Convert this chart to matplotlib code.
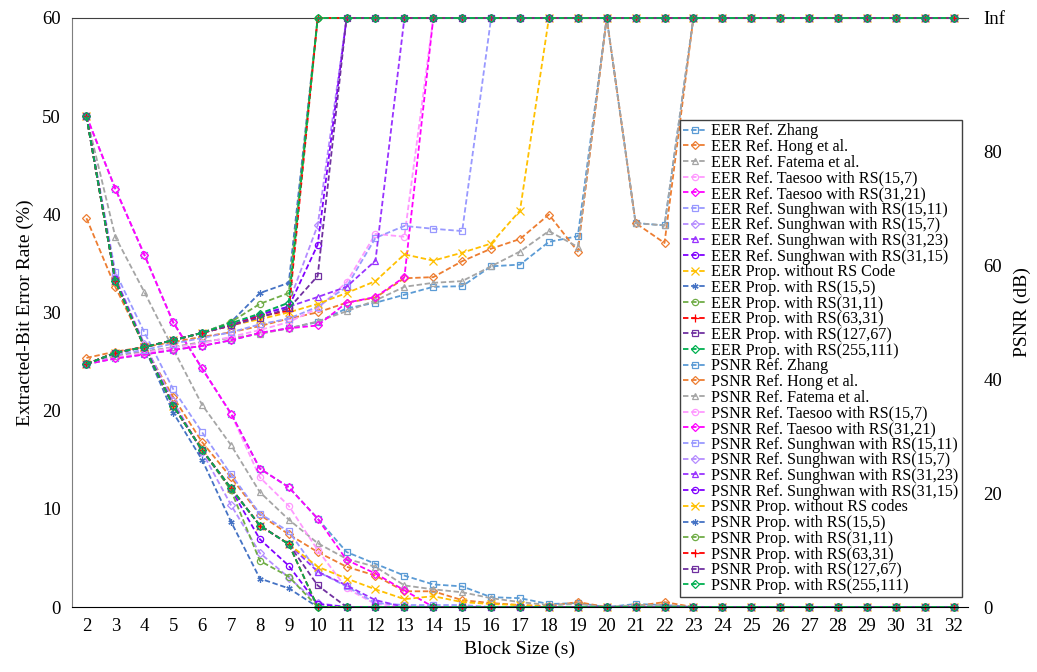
import numpy as np
import matplotlib
matplotlib.use('Agg')
import matplotlib.pyplot as plt

INF = float('inf')
N = 31
block_sizes = list(range(2, 33))
x_tick_labels = [str(v) for v in block_sizes]
eer_ticks = [0, 10, 20, 30, 40, 50, 60]
psnr_tick_labels = ['0', '20', '40', '60', '80', 'Inf']
PSNR_TOP = 103.56


def ext(vals, fill):
    return vals + [fill] * (N - len(vals))


# ---- Extracted-bit error rate (%) ----
eer_zhang = ext([50.0, 42.6, 35.9, 29.0, 24.3, 19.7, 14.1, 12.2, 9.0, 5.6, 4.4, 3.2, 2.3, 2.1, 1.0, 0.9, 0.3, 0.4, 0.0, 0.3, 0.2], 0.0)
eer_hong = ext([39.6, 32.6, 26.6, 21.4, 16.8, 13.2, 9.4, 7.4, 5.6, 4.1, 3.2, 1.6, 1.6, 0.7, 0.4, 0.2, 0.1, 0.5, 0.0, 0.1, 0.5], 0.0)
eer_fatema = ext([50.0, 37.7, 32.1, 26.3, 20.6, 16.5, 11.7, 8.9, 6.5, 4.9, 4.1, 2.2, 1.8, 1.5, 0.9, 0.5, 0.2, 0.3, 0.0, 0.2, 0.2], 0.0)
eer_taesoo_15_7 = ext([50.0, 42.6, 35.9, 29.0, 24.3, 19.7, 13.2, 10.3, 5.8, 1.9, 0.3, 0.1], 0.0)
eer_taesoo_31_21 = ext([50.0, 42.6, 35.9, 29.0, 24.3, 19.7, 14.1, 12.2, 9.0, 4.8, 3.4, 1.7], 0.0)
eer_sung_15_11 = ext([50.0, 34.1, 28.0, 22.2, 17.8, 13.5, 9.5, 7.7, 3.6, 2.1, 0.4, 0.2, 0.2, 0.2], 0.0)
eer_sung_15_7 = ext([50.0, 33.6, 26.8, 21.0, 15.8, 10.4, 5.5, 3.0, 0.4], 0.0)
eer_sung_31_23 = ext([50.0, 33.4, 26.6, 20.6, 16.0, 12.1, 8.3, 6.4, 3.6, 2.2, 0.7], 0.0)
eer_sung_31_15 = ext([50.0, 33.4, 26.6, 20.6, 16.0, 12.0, 6.9, 4.2, 0.3], 0.0)
eer_prop_nors = ext([50.0, 33.2, 26.5, 20.5, 16.0, 12.1, 8.3, 6.4, 4.1, 2.9, 1.8, 0.8, 1.1, 0.5, 0.3, 0.2], 0.0)
eer_prop_15_5 = ext([50.0, 33.2, 26.5, 19.8, 15.0, 8.7, 2.9, 1.9], 0.0)
eer_prop_31_11 = ext([50.0, 33.2, 26.5, 20.5, 16.0, 11.9, 4.7, 3.1], 0.0)
eer_prop_63_31 = ext([50.0, 33.2, 26.5, 20.5, 16.0, 12.1, 8.3, 6.4], 0.0)
eer_prop_127_67 = ext([50.0, 33.2, 26.5, 20.5, 16.0, 12.1, 8.3, 6.4, 2.2], 0.0)
eer_prop_255_111 = ext([50.0, 33.2, 26.5, 20.5, 16.0, 12.1, 8.3, 6.4], 0.0)

# ---- PSNR (dB) ----
psnr_zhang = ext([42.7, 43.7, 44.4, 45.2, 45.9, 46.9, 48.2, 49.0, 50.1, 52.5, 53.5, 54.9, 56.3, 56.4, 59.9, 60.2, 64.2, 65.2, INF, 67.5, 67.1], INF)
psnr_hong = ext([43.8, 44.9, 45.7, 46.6, 47.5, 48.3, 49.4, 50.7, 51.8, 53.5, 54.4, 57.8, 58.0, 60.8, 63.0, 64.7, 69.0, 62.5, INF, 67.5, 64.0], INF)
psnr_fatema = ext([42.7, 44.2, 44.9, 45.7, 46.6, 47.3, 48.0, 49.0, 50.2, 52.0, 53.9, 56.3, 57.0, 57.3, 59.9, 62.5, 66.1, 63.3, INF, 67.5, 67.1], INF)
psnr_taesoo_15_7 = ext([42.7, 43.8, 44.7, 45.6, 46.4, 47.5, 48.7, 50.1, 52.5, 57.1, 65.6, 65.1], INF)
psnr_taesoo_31_21 = ext([42.7, 43.7, 44.4, 45.2, 45.9, 46.9, 48.2, 49.0, 49.5, 53.5, 54.5, 58.0], INF)
psnr_sung_15_11 = ext([42.7, 44.4, 45.2, 46.3, 47.3, 48.3, 49.7, 50.7, 52.8, 56.3, 64.9, 67.0, 66.5, 66.1], INF)
psnr_sung_15_7 = ext([42.7, 44.7, 45.7, 46.9, 48.2, 49.5, 51.4, 53.5, 67.1], INF)
psnr_sung_31_23 = ext([42.7, 44.7, 45.7, 46.9, 48.2, 49.5, 51.4, 52.8, 54.5, 56.3, 60.9], INF)
psnr_sung_31_15 = ext([42.7, 44.7, 45.7, 46.9, 48.2, 49.5, 51.4, 52.8, 63.7], INF)
psnr_prop_nors = ext([42.7, 44.7, 45.7, 46.9, 48.2, 49.5, 50.6, 51.8, 53.3, 55.2, 57.3, 62.0, 60.9, 62.3, 63.9, 69.7], INF)
psnr_prop_15_5 = ext([42.7, 44.7, 45.7, 46.9, 48.2, 50.1, 55.2, 57.0], INF)
psnr_prop_31_11 = ext([42.7, 44.7, 45.7, 46.9, 48.2, 50.1, 53.3, 55.2], INF)
psnr_prop_63_31 = ext([42.7, 44.7, 45.7, 46.9, 48.2, 49.5, 51.1, 52.1], INF)
psnr_prop_127_67 = ext([42.7, 44.7, 45.7, 46.9, 48.2, 49.5, 50.9, 52.5, 58.2], INF)
psnr_prop_255_111 = ext([42.7, 44.7, 45.7, 46.9, 48.2, 49.9, 51.6, 53.5], INF)

methods = ['Ref. Zhang', 'Ref. Hong et al.', 'Ref. Fatema et al.',
           'Ref. Taesoo with RS(15,7)', 'Ref. Taesoo with RS(31,21)',
           'Ref. Sunghwan with RS(15,11)', 'Ref. Sunghwan with RS(15,7)',
           'Ref. Sunghwan with RS(31,23)', 'Ref. Sunghwan with RS(31,15)',
           'Prop. without RS Code', 'Prop. with RS(15,5)', 'Prop. with RS(31,11)',
           'Prop. with RS(63,31)', 'Prop. with RS(127,67)', 'Prop. with RS(255,111)']
psnr_methods = methods[:9] + ['Prop. without RS codes'] + methods[10:]
colors = ['#5B9BD5', '#ED7D31', '#A5A5A5', '#FF99FF', '#FF00FF', '#9999FF',
          '#B58CFF', '#9933FF', '#8000FF', '#FFC000', '#4472C4', '#70AD47',
          '#FF0000', '#7030A0', '#00B050']
markers = ['s', 'D', '^', 'o', 'D', 's', 'D', '^', 'o', 'x', (6, 2, 0), 'o', '+', 's', 'D']

eer_series = [eer_zhang, eer_hong, eer_fatema, eer_taesoo_15_7, eer_taesoo_31_21,
              eer_sung_15_11, eer_sung_15_7, eer_sung_31_23, eer_sung_31_15,
              eer_prop_nors, eer_prop_15_5, eer_prop_31_11, eer_prop_63_31,
              eer_prop_127_67, eer_prop_255_111]
psnr_series = [psnr_zhang, psnr_hong, psnr_fatema, psnr_taesoo_15_7, psnr_taesoo_31_21,
               psnr_sung_15_11, psnr_sung_15_7, psnr_sung_31_23, psnr_sung_31_15,
               psnr_prop_nors, psnr_prop_15_5, psnr_prop_31_11, psnr_prop_63_31,
               psnr_prop_127_67, psnr_prop_255_111]

plt.rcParams['font.family'] = ['Liberation Serif', 'DejaVu Serif']

fig = plt.figure(figsize=(10.37, 6.72), dpi=100)
ax = fig.add_axes([72 / 1037, 1 - 607 / 672, (968 - 72) / 1037, (607 - 18) / 672])
ax2 = ax.twinx()


def msize(m):
    if m in ('x', '+'):
        return 6
    if m == 'D':
        return 4
    return 4.5


handles = []
for vals, c, m, name in zip(eer_series, colors, markers, methods):
    h, = ax.plot(block_sizes, vals, linestyle='--', color=c, lw=1.3, marker=m,
                 markersize=msize(m), markerfacecolor='none', markeredgewidth=0.9,
                 label='EER ' + name, clip_on=False, dashes=(3, 1.5))
    handles.append(h)
for vals, c, m, name in zip(psnr_series, colors, markers, psnr_methods):
    plotted = [PSNR_TOP if np.isinf(v) else v for v in vals]
    h, = ax2.plot(block_sizes, plotted, linestyle='--', color=c, lw=1.3, marker=m,
                  markersize=msize(m), markerfacecolor='none', markeredgewidth=0.9,
                  label='PSNR ' + name, clip_on=False, dashes=(3, 1.5))
    handles.append(h)

ax.set_xlim(1.5, 32.5)
ax.set_ylim(0, 60)
ax2.set_ylim(0, PSNR_TOP)
ax.set_xticks(block_sizes)
ax.set_xticklabels(x_tick_labels)
ax.set_yticks(eer_ticks)
ax2.set_yticks([0, 20, 40, 60, 80, PSNR_TOP])
ax2.set_yticklabels(psnr_tick_labels)

for a in (ax, ax2):
    a.tick_params(axis='both', length=0, labelsize=13.5, pad=8)
    for s in a.spines.values():
        s.set_visible(False)
ax2.tick_params(axis='y', pad=11)
ax.spines['bottom'].set_visible(True)
ax.spines['bottom'].set_color('#000000')
ax.spines['left'].set_visible(True)
ax.spines['left'].set_color('#7F7F7F')
ax.spines['top'].set_visible(True)
ax.spines['top'].set_color('#404040')
ax.spines['top'].set_linewidth(0.8)

ax.set_xlabel('Block Size (s)', fontsize=14, labelpad=4)
ax.set_ylabel('Extracted-Bit Error Rate (%)', fontsize=14, labelpad=6)
ax2.set_ylabel('PSNR (dB)', fontsize=14, labelpad=6)

leg = fig.legend(handles=handles, loc='upper left', bbox_to_anchor=(680 / 1037, 1 - 120 / 672),
                 fontsize=11.6, frameon=True, fancybox=False, edgecolor='#404040',
                 framealpha=1, borderpad=0.2, labelspacing=-0.02, handlelength=1.5,
                 handletextpad=0.25, borderaxespad=0)
leg.get_frame().set_linewidth(1.0)

fig.savefig('out.png', dpi=100)
